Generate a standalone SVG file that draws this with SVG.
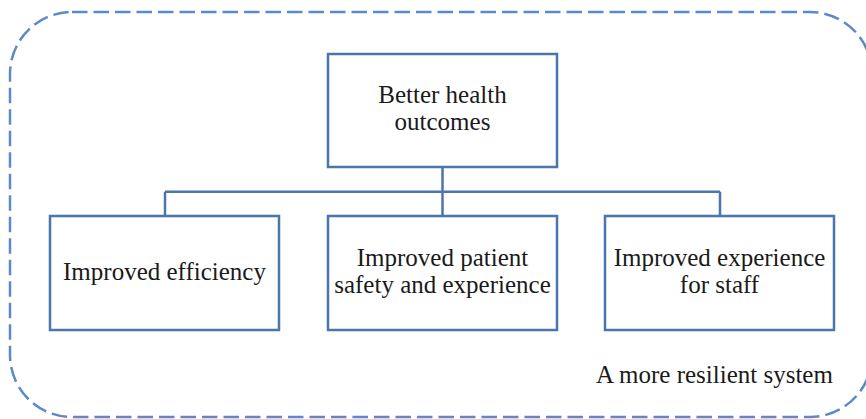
<svg xmlns="http://www.w3.org/2000/svg" width="866" height="419" viewBox="0 0 866 419">
<style>
.node{fill:#ffffff;stroke:#4A76AE;stroke-width:2.5}
.conn{fill:none;stroke:#4A76AE;stroke-width:2.5}
.border{fill:none;stroke:#5B8AC6;stroke-width:2.5;stroke-dasharray:15.5 6}
.lbl{font-family:'Liberation Serif','Times New Roman',serif;font-size:25px;fill:#1a1a1a;text-anchor:middle}
</style>
<rect width="866" height="419" fill="#ffffff"/>
<rect id="system-border" class="border" x="10" y="12" width="862" height="405" rx="62" ry="62"/>
<g id="connectors">
<line class="conn" x1="442.5" y1="167" x2="442.5" y2="216"/>
<line class="conn" x1="165" y1="191.7" x2="720" y2="191.7"/>
<line class="conn" x1="165" y1="191.7" x2="165" y2="216"/>
<line class="conn" x1="720" y1="191.7" x2="720" y2="216"/>
</g>
<g id="node-outcomes">
<rect class="node" x="328" y="54" width="229" height="113"/>
<text class="lbl" font-family="Liberation Serif, serif" x="442.5" y="103">Better health</text>
<text class="lbl" font-family="Liberation Serif, serif" x="442.5" y="130">outcomes</text>
</g>
<g id="node-efficiency">
<rect class="node" x="50" y="216" width="229" height="114"/>
<text class="lbl" font-family="Liberation Serif, serif" x="164.5" y="280">Improved efficiency</text>
</g>
<g id="node-patient">
<rect class="node" x="328" y="216" width="229" height="114"/>
<text class="lbl" font-family="Liberation Serif, serif" x="442.5" y="266">Improved patient</text>
<text class="lbl" font-family="Liberation Serif, serif" x="442.5" y="292.7">safety and experience</text>
</g>
<g id="node-staff">
<rect class="node" x="605" y="216" width="229" height="114"/>
<text class="lbl" font-family="Liberation Serif, serif" x="719.5" y="266">Improved experience</text>
<text class="lbl" font-family="Liberation Serif, serif" x="719.5" y="292.7">for staff</text>
</g>
<text id="label-system" class="lbl" font-family="Liberation Serif, serif" x="714.5" y="383">A more resilient system</text>
</svg>
